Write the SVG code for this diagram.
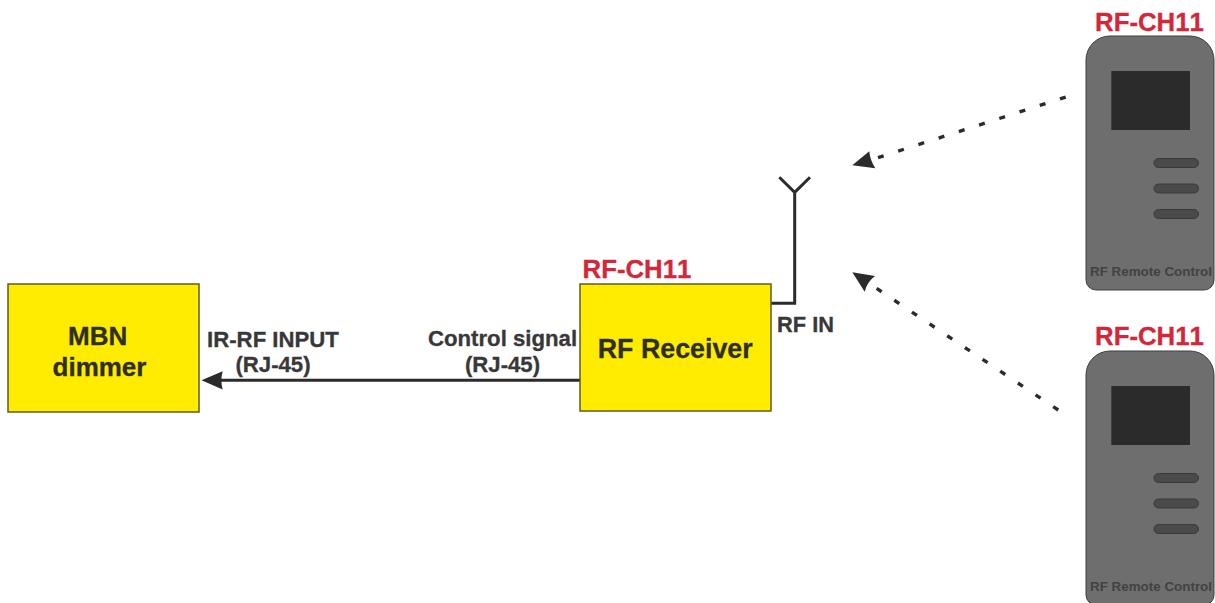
<svg xmlns="http://www.w3.org/2000/svg" width="1215" height="603" viewBox="0 0 1215 603">
<style>
text{font-family:"Liberation Sans",Arial,sans-serif;font-weight:700;font-kerning:none;stroke-width:.3px}
.box{fill:#ffec00;stroke:#5f5b22;stroke-width:1.5}
.ch{fill:#d2283a;stroke:#d2283a;font-size:25.8px}
.nm{fill:#2e2e22;stroke:#2e2e22;font-size:26px;text-anchor:middle}
.lb{fill:#383838;stroke:#383838;font-size:22.2px;text-anchor:middle}
.body{fill:#6e6e6e;stroke:#3e3e3e;stroke-width:1}
.scr{fill:#2b2b2b}
.btn{fill:#4a4a4a;stroke:#3a3a3a;stroke-width:1}
.rc{fill:#424242;font-size:13.4px}
.wire{fill:none;stroke:#2b2b2b;stroke-width:3}
.dash{fill:none;stroke:#2b2b2b;stroke-width:3.4;stroke-dasharray:6 15.25}
.head{fill:#2b2b2b}
</style>
<rect width="1215" height="603" fill="#fff"/>
<g id="connectors">
<path class="wire" d="M580 380.3H216"/>
<path class="head" d="M201.5 380.3L222.7 371.2Q220 380.3 222.7 389.5Z"/>
<path class="wire" d="M771 303.3H794.7V192.3M779.3 177.3L794.7 192.3L810 177.3"/>
<path class="dash" d="M1065.7 97.1L878 157.6"/>
<path class="head" d="M852.3 165.3L869.3 151.3Q870 160 875.3 168.3Z"/>
<path class="dash" d="M1058.2 410L876 288"/>
<path class="head" d="M852.3 272.3L875 276Q867 282 864.7 291.7Z"/>
</g>
<g id="mbn-dimmer">
<rect class="box" x="8" y="284" width="191" height="128"/>
<text class="nm" x="97.7" y="345.3">MBN</text>
<text class="nm" x="99.5" y="375.7">dimmer</text>
</g>
<g id="rf-receiver">
<rect class="box" x="580" y="284" width="191" height="127"/>
<text class="ch" x="582.5" y="277.5">RF-CH11</text>
<text class="nm" x="675.2" y="357.7" style="font-size:26.8px">RF Receiver</text>
</g>
<g id="remote-1">
<text class="ch" x="1095" y="30.7">RF-CH11</text>
<path class="body" d="M1110 36H1190A24 24 0 0 1 1214 60V280A10 10 0 0 1 1204 290H1096A10 10 0 0 1 1086 280V60A24 24 0 0 1 1110 36Z"/>
<rect class="scr" x="1111.3" y="71" width="78.7" height="59"/>
<rect class="btn" x="1154" y="158.5" width="44.5" height="9" rx="4.5"/>
<rect class="btn" x="1154" y="184" width="44.5" height="9" rx="4.5"/>
<rect class="btn" x="1154" y="209.5" width="44.5" height="9" rx="4.5"/>
<text class="rc" x="1090" y="276">RF Remote Control</text>
</g>
<g id="remote-2">
<text class="ch" x="1095" y="345">RF-CH11</text>
<path class="body" d="M1110 351H1190A24 24 0 0 1 1214 375V595A10 10 0 0 1 1204 605H1096A10 10 0 0 1 1086 595V375A24 24 0 0 1 1110 351Z"/>
<rect class="scr" x="1111.3" y="386" width="78.7" height="59"/>
<rect class="btn" x="1154" y="473.5" width="44.5" height="9" rx="4.5"/>
<rect class="btn" x="1154" y="499" width="44.5" height="9" rx="4.5"/>
<rect class="btn" x="1154" y="524.5" width="44.5" height="9" rx="4.5"/>
<text class="rc" x="1090" y="591">RF Remote Control</text>
</g>
<g id="labels">
<text class="lb" x="273" y="346.7">IR-RF INPUT</text>
<text class="lb" x="273" y="371.7">(RJ-45)</text>
<text class="lb" x="502.5" y="346">Control signal</text>
<text class="lb" x="502.5" y="371.7">(RJ-45)</text>
<text class="lb" x="805.5" y="331.7" style="font-size:21.8px">RF IN</text>
</g>
</svg>
